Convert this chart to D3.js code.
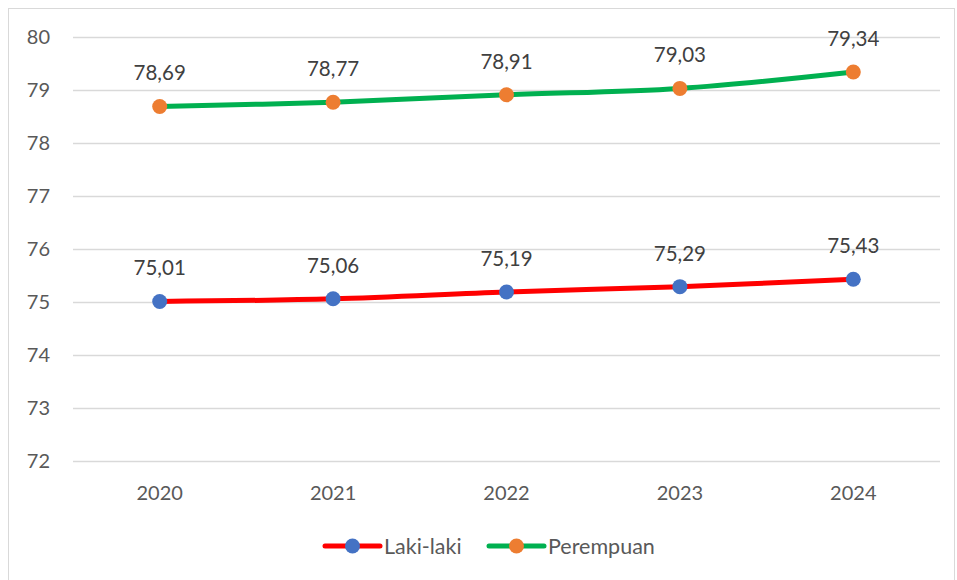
<!DOCTYPE html>
<html>
<head>
<meta charset="utf-8">
<script src="https://cdn.jsdelivr.net/npm/d3@7"></script>
<style>
  body { margin: 0; background: #fff; }
  svg { display: block; font-family: Lato, "Open Sans", sans-serif; }
</style>
</head>
<body>
<svg id="chart" width="957" height="580"></svg>
<script>
var years = ["2020", "2021", "2022", "2023", "2024"];
var laki = [75.01, 75.06, 75.19, 75.29, 75.43];
var perempuan = [78.69, 78.77, 78.91, 79.03, 79.34];
var yTicks = [72, 73, 74, 75, 76, 77, 78, 79, 80];

var series = [
  { name: "Laki-laki", values: laki, line: "#FF0000", marker: "#4472C4" },
  { name: "Perempuan", values: perempuan, line: "#00B050", marker: "#ED7D31" }
];

var svg = d3.select("#chart");
var plotLeft = 73, plotRight = 940, plotTop = 37, plotBottom = 461;

// chart border
svg.append("rect")
  .attr("x", 8.5).attr("y", 8.5).attr("width", 946).attr("height", 580)
  .attr("fill", "none").attr("stroke", "#d9d9d9").attr("stroke-width", 1);

var x = d3.scaleBand().domain(years).range([plotLeft, plotRight]);
var y = d3.scaleLinear().domain([72, 80]).range([plotBottom, plotTop]);
var cx = function(d, i){ return x(years[i]) + x.bandwidth()/2; };

// gridlines
svg.append("g").selectAll("line").data(yTicks).join("line")
  .attr("x1", plotLeft).attr("x2", plotRight)
  .attr("y1", function(d){ return Math.round(y(d)) + 0.5; })
  .attr("y2", function(d){ return Math.round(y(d)) + 0.5; })
  .attr("stroke", "#d9d9d9").attr("stroke-width", 1.3);

// y labels
svg.append("g").selectAll("text").data(yTicks).join("text")
  .attr("x", 50).attr("y", function(d){ return y(d); })
  .attr("dy", "0.36em").attr("text-anchor", "end")
  .attr("font-size", 20).attr("fill", "#595959")
  .text(function(d){ return d; });

// x labels
svg.append("g").selectAll("text").data(years).join("text")
  .attr("x", function(d){ return x(d) + x.bandwidth()/2; })
  .attr("y", 493).attr("dy", "0.36em").attr("text-anchor", "middle")
  .attr("font-size", 20).attr("fill", "#595959")
  .text(function(d){ return d; });

var line = d3.line()
  .x(cx)
  .y(function(d){ return y(d); })
  .curve(d3.curveCatmullRom.alpha(0.5));

series.forEach(function(s){
  var g = svg.append("g");
  g.append("path").datum(s.values)
    .attr("d", line).attr("fill", "none")
    .attr("stroke", s.line).attr("stroke-width", 5).attr("stroke-linecap", "round");
  g.selectAll("circle").data(s.values).join("circle")
    .attr("cx", cx)
    .attr("cy", function(d){ return y(d); })
    .attr("r", 7.5).attr("fill", s.marker);
  g.selectAll("text").data(s.values).join("text")
    .attr("x", cx)
    .attr("y", function(d){ return y(d) - 26; })
    .attr("text-anchor", "middle").attr("font-size", 20.5).attr("fill", "#404040")
    .text(function(d){ return d.toFixed(2).replace(".", ","); });
});

// legend
var legendPos = [325, 489];
series.forEach(function(s, i){
  var lg = svg.append("g").attr("transform", "translate(" + legendPos[i] + ",546)");
  lg.append("line").attr("x1", 0).attr("x2", 55).attr("y1", 0).attr("y2", 0)
    .attr("stroke", s.line).attr("stroke-width", 5).attr("stroke-linecap", "round");
  lg.append("circle").attr("cx", 27.5).attr("cy", 0).attr("r", 7.5).attr("fill", s.marker);
  lg.append("text").attr("x", 59).attr("y", 0).attr("dy", "0.36em")
    .attr("font-size", 21.5).attr("fill", "#595959").text(s.name);
});
</script>
</body>
</html>
